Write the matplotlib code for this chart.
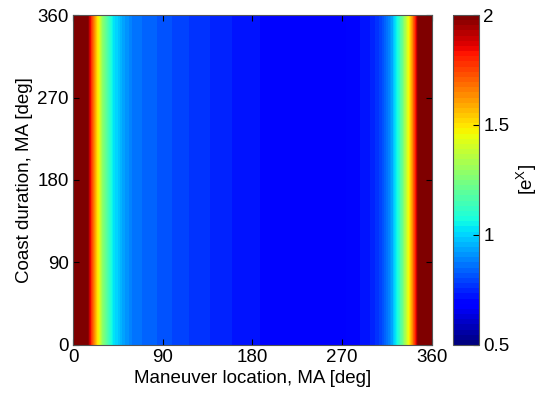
import matplotlib
matplotlib.use("Agg")
import matplotlib.pyplot as plt
import numpy as np

plt.rcParams["font.family"] = ["Liberation Sans", "DejaVu Sans"]
plt.rcParams["font.size"] = 13.5
plt.rcParams["mathtext.default"] = "regular"

# ============================================================
# Data (constant along coast duration)
# ============================================================
maneuver_deg = np.arange(0, 361, 10)
ex_values = [
    2.6, 2.3, 1.7, 1.28, 1.04, 0.94, 0.872, 0.85, 0.834, 0.819,
    0.804, 0.789, 0.776, 0.765, 0.755, 0.745, 0.734, 0.726, 0.717, 0.709,
    0.701, 0.693, 0.686, 0.68, 0.676, 0.674, 0.676, 0.682, 0.698, 0.715,
    0.74, 0.80, 0.93, 1.20, 1.60, 2.25, 2.6,
]
coast_deg = [0, 360]

xticks = [0, 90, 180, 270, 360]
yticks = [0, 90, 180, 270, 360]
cticks = [0.5, 1, 1.5, 2]

# ============================================================
# Figure
# ============================================================
fig = plt.figure(figsize=(5.42, 3.98), dpi=100)
ax = fig.add_axes([0.1347, 0.1332, 0.6623, 0.8291])
cax = fig.add_axes([0.836, 0.1332, 0.048, 0.8291])

grid = np.tile(np.array(ex_values), (len(coast_deg), 1))
step = maneuver_deg[1] - maneuver_deg[0]
im = ax.imshow(
    grid,
    cmap=plt.get_cmap("jet", 64),
    vmin=0.5,
    vmax=2,
    origin="lower",
    aspect="auto",
    interpolation="bilinear",
    interpolation_stage="data",
    extent=[maneuver_deg[0] - step / 2, maneuver_deg[-1] + step / 2, 0, 360],
)
ax.set_xlim(0, 360)
ax.set_ylim(0, 360)
ax.set_xticks(xticks)
ax.set_yticks(yticks)
ax.tick_params(direction="in", top=True, right=True, length=4,
               labelsize=13.5, pad=3)
ax.set_xlabel("Maneuver location, MA [deg]", fontsize=13.5, labelpad=3)
ax.set_ylabel("Coast duration, MA [deg]", fontsize=13.5, labelpad=3)
for s in ax.spines.values():
    s.set_color("#555555")

cb = fig.colorbar(im, cax=cax, ticks=cticks)
cb.ax.set_yticklabels(["0.5", "1", "1.5", "2"])
cb.ax.tick_params(direction="in", length=4, labelsize=13.5, pad=3)
cb.outline.set_edgecolor("#555555")
cb.set_label(r"[e$^{X}$]", fontsize=13.5, labelpad=4)

fig.savefig("out.png", dpi=100)
